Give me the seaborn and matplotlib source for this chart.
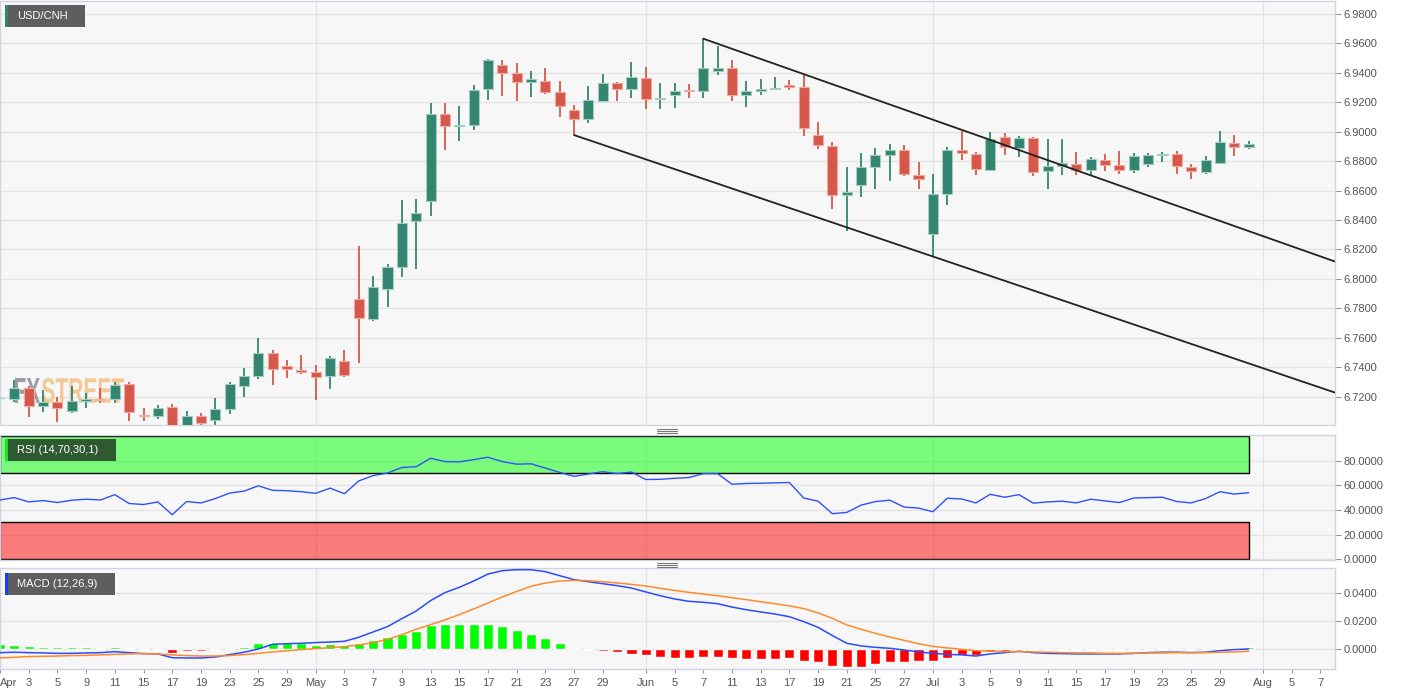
import numpy as np
import pandas as pd
import matplotlib
matplotlib.use('Agg')
import matplotlib.pyplot as plt
import seaborn as sns
from matplotlib.patches import Rectangle, PathPatch
from matplotlib.textpath import TextPath
from matplotlib.font_manager import FontProperties
from matplotlib.transforms import Affine2D, IdentityTransform
from matplotlib.ticker import FormatStrFormatter

sns.set_theme(style='white')
plt.rcParams['font.family'] = ['Liberation Sans', 'DejaVu Sans']

# ---- data (USD/CNH daily, Apr-Jul 2019) ----
dates = pd.bdate_range('2019-04-01', '2019-07-31')

opens = [6.7188, 6.7184, 6.7259, 6.7139, 6.7166, 6.7104, 6.7173, 6.7184, 6.7184, 6.7287,
         6.7077, 6.7070, 6.7128, 6.6990, 6.7070, 6.7041, 6.7116, 6.7271, 6.7343, 6.7498,
         6.7407, 6.7384, 6.7368, 6.7339, 6.7444, 6.7865, 6.7727, 6.7928, 6.8078, 6.8395,
         6.8529, 6.9120, 6.9036, 6.9045, 6.9290, 6.9455, 6.9398, 6.9340, 6.9344, 6.9267,
         6.9147, 6.9084, 6.9206, 6.9330, 6.9290, 6.9362, 6.9222, 6.9249, 6.9285, 6.9276,
         6.9412, 6.9430, 6.9251, 6.9278, 6.9287, 6.9315, 6.9301, 6.8976, 6.8903, 6.8568,
         6.8638, 6.8762, 6.8844, 6.8875, 6.8708, 6.8303, 6.8577, 6.8876, 6.8846, 6.8740,
         6.8962, 6.8887, 6.8955, 6.8731, 6.8769, 6.8781, 6.8740, 6.8810, 6.8776, 6.8740,
         6.8781, 6.8842, 6.8849, 6.8763, 6.8729, 6.8785, 6.8925, 6.8898]
highs = [6.7245, 6.7314, 6.7275, 6.7246, 6.7200, 6.7275, 6.7223, 6.7259, 6.7298, 6.7302,
         6.7123, 6.7145, 6.7150, 6.7104, 6.7088, 6.7191, 6.7302, 6.7396, 6.7601, 6.7519,
         6.7450, 6.7485, 6.7416, 6.7478, 6.7514, 6.8220, 6.8019, 6.8101, 6.8537, 6.8544,
         6.9192, 6.9197, 6.9174, 6.9317, 6.9494, 6.9487, 6.9466, 6.9412, 6.9432, 6.9344,
         6.9181, 6.9310, 6.9392, 6.9340, 6.9475, 6.9441, 6.9333, 6.9328, 6.9321, 6.9632,
         6.9582, 6.9485, 6.9342, 6.9355, 6.9374, 6.9349, 6.9387, 6.9066, 6.8930, 6.8761,
         6.8857, 6.8891, 6.8914, 6.8909, 6.8794, 6.8712, 6.8894, 6.9007, 6.8860, 6.9000,
         6.8991, 6.8973, 6.8966, 6.8950, 6.8950, 6.8862, 6.8831, 6.8849, 6.8867, 6.8853,
         6.8853, 6.8862, 6.8867, 6.8781, 6.8837, 6.9005, 6.8980, 6.8939]
lows = [6.7060, 6.7161, 6.7059, 6.7093, 6.7025, 6.7086, 6.7123, 6.7154, 6.7154, 6.7032,
        6.7032, 6.7045, 6.6970, 6.6960, 6.6995, 6.7002, 6.7082, 6.7195, 6.7321, 6.7280,
        6.7323, 6.7355, 6.7177, 6.7252, 6.7332, 6.7430, 6.7711, 6.7806, 6.8010, 6.8069,
        6.8424, 6.8875, 6.8939, 6.9011, 6.9215, 6.9244, 6.9210, 6.9238, 6.9256, 6.9102,
        6.8977, 6.9059, 6.9199, 6.9210, 6.9229, 6.9153, 6.9152, 6.9158, 6.9226, 6.9226,
        6.9383, 6.9208, 6.9167, 6.9247, 6.9283, 6.9281, 6.8970, 6.8880, 6.8472, 6.8324,
        6.8558, 6.8608, 6.8663, 6.8699, 6.8608, 6.8154, 6.8503, 6.8808, 6.8708, 6.8736,
        6.8842, 6.8826, 6.8700, 6.8611, 6.8708, 6.8708, 6.8706, 6.8736, 6.8713, 6.8718,
        6.8763, 6.8792, 6.8713, 6.8679, 6.8713, 6.8781, 6.8835, 6.8880]
closes = [6.7192, 6.7259, 6.7139, 6.7166, 6.7123, 6.7168, 6.7186, 6.7177, 6.7282, 6.7093,
          6.7070, 6.7120, 6.6985, 6.7068, 6.7018, 6.7116, 6.7287, 6.7341, 6.7496, 6.7389,
          6.7387, 6.7364, 6.7332, 6.7462, 6.7348, 6.7735, 6.7947, 6.8078, 6.8379, 6.8445,
          6.9120, 6.9041, 6.9045, 6.9281, 6.9487, 6.9398, 6.9337, 6.9358, 6.9272, 6.9172,
          6.9086, 6.9215, 6.9330, 6.9290, 6.9369, 6.9221, 6.9231, 6.9274, 6.9276, 6.9430,
          6.9432, 6.9249, 6.9274, 6.9287, 6.9297, 6.9301, 6.9023, 6.8908, 6.8568, 6.8589,
          6.8762, 6.8839, 6.8875, 6.8710, 6.8676, 6.8575, 6.8876, 6.8853, 6.8747, 6.8950,
          6.8898, 6.8955, 6.8729, 6.8765, 6.8788, 6.8740, 6.8815, 6.8774, 6.8740, 6.8833,
          6.8842, 6.8849, 6.8765, 6.8733, 6.8808, 6.8930, 6.8896, 6.8916]

rsi = [48.2, 50.1, 46.6, 47.7, 46.1, 48.0, 48.8, 48.2, 52.5, 45.3,
       44.5, 46.6, 36.2, 46.9, 45.8, 49.3, 53.8, 55.4, 59.7, 56.0,
       55.7, 54.9, 53.6, 57.8, 53.3, 63.7, 68.0, 70.1, 74.6, 75.2,
       82.1, 79.4, 79.2, 81.0, 82.9, 79.4, 77.3, 77.6, 74.1, 70.6,
       67.4, 69.3, 71.2, 69.6, 70.9, 64.8, 65.0, 65.8, 66.4, 69.6,
       69.6, 61.0, 61.6, 61.8, 62.1, 62.4, 49.8, 47.2, 37.0, 38.1,
       44.0, 46.9, 48.0, 42.4, 41.6, 38.6, 49.6, 49.0, 45.8, 52.8,
       50.4, 52.5, 45.6, 46.6, 47.2, 45.8, 48.8, 47.4, 46.1, 49.8,
       50.1, 50.4, 46.9, 45.8, 49.3, 54.9, 53.0, 54.1]

macd = [-0.0024, -0.0021, -0.0024, -0.0026, -0.0029, -0.0029, -0.0026, -0.0024, -0.0017, -0.0024,
        -0.0031, -0.0033, -0.0060, -0.0062, -0.0062, -0.0055, -0.0038, -0.0021, 0.0002, 0.0036,
        0.0040, 0.0043, 0.0048, 0.0052, 0.0057, 0.0086, 0.0124, 0.0162, 0.0219, 0.0274,
        0.0348, 0.0405, 0.0443, 0.0488, 0.0538, 0.0562, 0.0569, 0.0569, 0.0555, 0.0526,
        0.0498, 0.0483, 0.0469, 0.0455, 0.0438, 0.0410, 0.0383, 0.0360, 0.0343, 0.0336,
        0.0326, 0.0302, 0.0283, 0.0267, 0.0252, 0.0233, 0.0198, 0.0157, 0.0098, 0.0043,
        0.0024, 0.0014, 0.0007, -0.0005, -0.0019, -0.0029, -0.0036, -0.0040, -0.0048, -0.0033,
        -0.0024, -0.0014, -0.0024, -0.0029, -0.0031, -0.0033, -0.0033, -0.0033, -0.0033, -0.0029,
        -0.0024, -0.0021, -0.0021, -0.0024, -0.0021, -0.0010, -0.0002, 0.0002]
signal = [-0.0062, -0.0057, -0.0052, -0.0050, -0.0048, -0.0045, -0.0043, -0.0040, -0.0036, -0.0033,
          -0.0031, -0.0033, -0.0040, -0.0045, -0.0048, -0.0048, -0.0045, -0.0038, -0.0029, -0.0019,
          -0.0010, -0.0002, 0.0005, 0.0012, 0.0019, 0.0031, 0.0048, 0.0071, 0.0105, 0.0143,
          0.0176, 0.0210, 0.0248, 0.0288, 0.0331, 0.0374, 0.0414, 0.0450, 0.0474, 0.0488,
          0.0493, 0.0490, 0.0483, 0.0474, 0.0464, 0.0452, 0.0436, 0.0421, 0.0407, 0.0395,
          0.0383, 0.0369, 0.0355, 0.0340, 0.0326, 0.0310, 0.0291, 0.0260, 0.0221, 0.0174,
          0.0143, 0.0114, 0.0088, 0.0064, 0.0040, 0.0021, 0.0010, 0.0000, -0.0010, -0.0014,
          -0.0017, -0.0017, -0.0019, -0.0021, -0.0024, -0.0026, -0.0026, -0.0029, -0.0029, -0.0029,
          -0.0026, -0.0026, -0.0024, -0.0024, -0.0024, -0.0021, -0.0019, -0.0014]
hist = [0.0036, 0.0033, 0.0024, 0.0019, 0.0014, 0.0014, 0.0014, 0.0012, 0.0017, 0.0007,
        -0.0002, -0.0005, -0.0024, -0.0010, -0.0010, -0.0003, 0.0005, 0.0019, 0.0043, 0.0048,
        0.0043, 0.0043, 0.0031, 0.0036, 0.0029, 0.0048, 0.0067, 0.0088, 0.0112, 0.0129,
        0.0171, 0.0183, 0.0179, 0.0179, 0.0181, 0.0164, 0.0138, 0.0112, 0.0079, 0.0043,
        0.0007, -0.0005, -0.0014, -0.0019, -0.0031, -0.0043, -0.0057, -0.0060, -0.0064, -0.0052,
        -0.0052, -0.0062, -0.0067, -0.0067, -0.0067, -0.0064, -0.0081, -0.0093, -0.0119, -0.0124,
        -0.0124, -0.0107, -0.0093, -0.0088, -0.0081, -0.0083, -0.0062, -0.0043, -0.0040, -0.0019,
        -0.0012, -0.0007, -0.0007, -0.0007, -0.0007, -0.0007, -0.0005, -0.0005, -0.0005, -0.0002,
        0.0002, 0.0002, 0.0002, 0.0001, 0.0002, 0.0010, 0.0012, 0.0019]

# descending channel (drawn trendlines)
upper_line_dates = ['2019-06-07', '2019-08-09']
upper_line_prices = [6.9632, 6.8084]
lower_line_dates = ['2019-05-27', '2019-08-09']
lower_line_prices = [6.8977, 6.7195]

month_starts = ['2019-04-01', '2019-05-01', '2019-06-03', '2019-07-01', '2019-08-01']
tick_dates = ['2019-04-01', '2019-04-03', '2019-04-05', '2019-04-09', '2019-04-11', '2019-04-15',
              '2019-04-17', '2019-04-19', '2019-04-23', '2019-04-25', '2019-04-29', '2019-05-01',
              '2019-05-03', '2019-05-07', '2019-05-09', '2019-05-13', '2019-05-15', '2019-05-17',
              '2019-05-21', '2019-05-23', '2019-05-27', '2019-05-29', '2019-06-03', '2019-06-05',
              '2019-06-07', '2019-06-11', '2019-06-13', '2019-06-17', '2019-06-19', '2019-06-21',
              '2019-06-25', '2019-06-27', '2019-07-01', '2019-07-03', '2019-07-05', '2019-07-09',
              '2019-07-11', '2019-07-15', '2019-07-17', '2019-07-19', '2019-07-23', '2019-07-25',
              '2019-07-29', '2019-08-01', '2019-08-05', '2019-08-07']

# ---- layout ----
W, H = 1405, 695
axis_dates = pd.bdate_range('2019-04-01', '2019-08-09')
def pos(d):
    return axis_dates.get_loc(pd.Timestamp(d))

x = np.arange(len(dates))
opens, highs, lows, closes = map(np.array, (opens, highs, lows, closes))
hist = np.array(hist)
xlim = (-0.001, 93.02)

fig = plt.figure(figsize=(W / 100, H / 100), dpi=100)
fig.patch.set_facecolor('white')
ax_main = fig.add_axes([0, (H - 425) / H, 1335 / W, 424 / H])
ax_rsi = fig.add_axes([0, (H - 559.5) / H, 1335 / W, 124.5 / H])
ax_macd = fig.add_axes([0, (H - 669.3) / H, 1335 / W, 101 / H])

grid_c = '#e4e4e4'
month_x = [pos(d) for d in month_starts]
for ax in (ax_main, ax_rsi, ax_macd):
    ax.set_facecolor('#f7f7f7')
    for s in ax.spines.values():
        s.set_color('#d0d4e2')
        s.set_linewidth(1)
    ax.yaxis.tick_right()
    ax.grid(axis='y', color=grid_c, lw=1)
    ax.set_axisbelow(True)
    for mx in month_x[1:]:
        ax.axvline(mx, color=grid_c, lw=1, zorder=0.5)
    ax.set_xlim(*xlim)
    ax.tick_params(axis='y', length=4, width=0.8, color='#999999', labelcolor='#555555',
                   labelsize=8, pad=2, direction='out', right=True, left=False)
    ax.tick_params(axis='x', length=0, labelbottom=False)

# ---- candles ----
up = closes >= opens
body_c = np.where(up, '#33856f', '#d6584a')
edge_c = np.where(up, '#a3cdc1', '#efaaa1')
ax_main.vlines(x, lows, highs, colors=body_c, lw=1.3, zorder=2)
ax_main.bar(x, closes - opens, bottom=opens, width=0.7, color=body_c,
            edgecolor=edge_c, linewidth=0.8, zorder=3)

ax_main.plot([pos(d) for d in upper_line_dates], upper_line_prices, color='#222222', lw=1.3, zorder=4)
ax_main.plot([pos(d) for d in lower_line_dates], lower_line_prices, color='#222222', lw=1.3, zorder=4)
ax_main.set_ylim(6.7007, 6.9888)
ax_main.set_yticks(np.arange(6.72, 6.981, 0.02))
ax_main.yaxis.set_major_formatter(FormatStrFormatter('%.4f'))

# watermark
def watermark(txt, x0, x1, ytop, ybot, color, alpha):
    tp = TextPath((0, 0), txt, size=40, prop=FontProperties(family='Liberation Sans', weight='bold'))
    bb = tp.get_extents()
    tr = Affine2D().translate(-bb.x0, -bb.y0).scale((x1 - x0) / bb.width, (ybot - ytop) / bb.height)\
        .translate(x0, H - ybot)
    p = PathPatch(tr.transform_path(tp), facecolor=color, edgecolor='none', alpha=alpha,
                  transform=IdentityTransform(), zorder=1.5)
    ax_main.add_artist(p)

watermark('FX', 15, 40, 378, 403, '#85858f', 0.8)
watermark('STREET', 42, 124, 378, 403, '#f2b468', 0.7)

# ---- RSI ----
ax_rsi.fill_between([xlim[0], x[-1]], 70, 100, facecolor=(0, 1, 0, 0.5), edgecolor='black', lw=1, zorder=1)
ax_rsi.fill_between([xlim[0], x[-1]], 0, 30, facecolor=(1, 0, 0, 0.5), edgecolor='black', lw=1, zorder=1)
sns.lineplot(x=x, y=rsi, ax=ax_rsi, color='#3050ff', linewidth=1.0, legend=False, zorder=3)
ax_rsi.set_ylim(-0.2, 101)
ax_rsi.set_yticks([0, 20, 40, 60, 80])
ax_rsi.yaxis.set_major_formatter(FormatStrFormatter('%.4f'))
ax_rsi.set_ylabel('')

# ---- MACD ----
ax_macd.bar(x, hist, width=0.7, color=np.where(hist >= 0, '#00ff00', '#ff0000'), zorder=2)
sns.lineplot(x=x, y=macd, ax=ax_macd, color='#2a4bff', linewidth=1.1, legend=False, zorder=3)
sns.lineplot(x=x, y=signal, ax=ax_macd, color='#ff8a2b', linewidth=1.1, legend=False, zorder=3)
ax_macd.set_ylim(-0.0143, 0.0579)
ax_macd.set_yticks([0.0, 0.02, 0.04])
ax_macd.yaxis.set_major_formatter(FormatStrFormatter('%.4f'))
ax_macd.set_ylabel('')

tick_labels = [pd.Timestamp(d).strftime('%b') if d in month_starts else str(pd.Timestamp(d).day)
               for d in tick_dates]
ax_macd.set_xticks([pos(d) for d in tick_dates])
ax_macd.set_xticklabels(tick_labels)
ax_macd.tick_params(axis='x', length=3, width=0.8, color='#999999', labelcolor='#555555',
                    labelsize=8, pad=3, labelbottom=True, bottom=True)
ax_macd.get_xticklabels()[0].set_ha('left')
for ax in (ax_main, ax_rsi, ax_macd):
    ax.set_xlim(*xlim)

# ---- label boxes ----
def box(x0, y0, x1, y1, color, stripe, text):
    fig.add_artist(Rectangle((x0 / W, 1 - y1 / H), (x1 - x0) / W, (y1 - y0) / H,
                             transform=fig.transFigure, facecolor=color, edgecolor='none', zorder=10))
    fig.add_artist(Rectangle((x0 / W, 1 - y1 / H), 2.5 / W, (y1 - y0) / H,
                             transform=fig.transFigure, facecolor=stripe, edgecolor='none', zorder=11))
    fig.text((x0 + 12) / W, 1 - (y0 + y1) / 2 / H, text, color='white', fontsize=8,
             va='center', ha='left', zorder=12)

box(5, 5, 85, 27, '#5e5e5e', '#33856f', 'USD/CNH')
box(5, 439, 116, 461, '#2f5a2f', '#22dd22', 'RSI (14,70,30,1)')
box(5, 573, 115, 595, '#5e5e5e', '#1a3cff', 'MACD (12,26,9)')

# panel resize handles
for yc in (430.5, 564.5):
    for dy in (-2, 0, 2):
        fig.add_artist(plt.Line2D([657 / W, 677 / W], [1 - (yc + dy) / H] * 2,
                                  transform=fig.transFigure, color='#777777', lw=0.8))

fig.savefig('out.png', dpi=100)
